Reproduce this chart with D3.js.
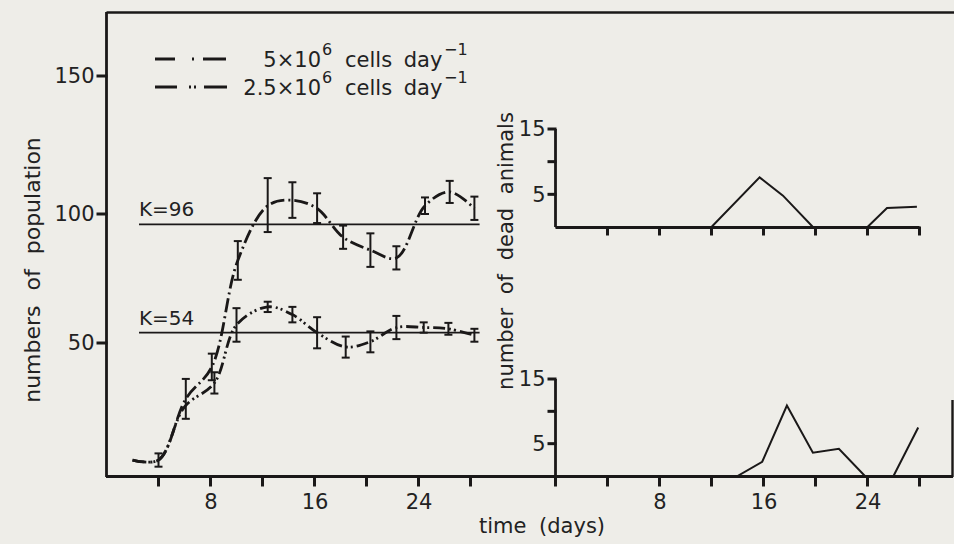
<!DOCTYPE html>
<html>
<head>
<meta charset="utf-8">
<script src="https://cdn.jsdelivr.net/npm/d3@7"></script>
<style>
  body { margin: 0; background: #eeede8; }
  svg { display: block; }
  text { font-family: "DejaVu Sans", sans-serif; fill: #222; }
  .axis text { font-size: 21px; fill: #222; font-family: "DejaVu Sans", sans-serif; }
</style>
</head>
<body>
<div id="chart"></div>
<script>
// population, 5x10^6 cells/day (dash-dot)
var daysHigh = [2, 4, 6.1, 8.1, 10.1, 12.4, 14.3, 16.2, 18.2, 20.3, 22.3, 24.5, 26.4, 28.3];
var meanHigh = [6, 6, 29, 41, 82, 103, 105, 102, 91, 86, 83, 103, 108, 102];
var errHigh  = [0, 2.5, 7.5, 5, 7.5, 10, 6.5, 5.5, 4.5, 6.5, 4.5, 3, 4, 4.3];

// population, 2.5x10^6 cells/day (dash-dot-dot)
var daysLow = [2, 4, 6, 8.3, 10, 12.4, 14.3, 16.2, 18.4, 20.3, 22.3, 24.4, 26.3, 28.3];
var meanLow = [6, 6, 26, 35, 57, 64, 61, 54, 48.5, 50.5, 56, 56, 55.5, 53];
var errLow  = [0, 0, 0, 4, 6.5, 2, 3, 6, 4, 4, 4.5, 2, 2.3, 2.5];

// carrying capacities
var kValues = [96, 54];
var kFrom = 2.5, kTo = 28.7;

// dead animals, upper and lower panels
var deadDaysTop = [0, 12, 15.7, 17.5, 19.8, 24, 25.5, 27.8];
var deadTop     = [0, 0, 7.6, 4.8, 0, 0, 2.9, 3.1];
var deadDaysBot = [0, 14, 15.9, 17.8, 19.8, 21.8, 23.8, 26, 27.9];
var deadBot     = [0, 0, 2.2, 10.9, 3.6, 4.2, 0, 0, 7.5];

var dayTicks = [4, 8, 12, 16, 20, 24, 28];
var popTicks = [50, 100, 150];
var deadTicks = [5, 10, 15];

var W = 954, H = 544;
var ink = "#1a1818";

var svg = d3.select("#chart").append("svg")
    .attr("width", W)
    .attr("height", H);

var xL = d3.scaleLinear().domain([0, 28]).range([106.5, 470.5]);
var xR = d3.scaleLinear().domain([0, 28]).range([555.5, 919.5]);
var yL = d3.scaleLinear().domain([0, 50, 100, 150]).range([476, 343, 214, 76]);
var yU = d3.scaleLinear().domain([0, 15]).range([227, 129]);
var yD = d3.scaleLinear().domain([0, 15]).range([476, 379]);

var labelEvery8 = d => d % 8 === 0 && d > 0 ? d : "";

function hLine(x1, x2, y, w) {
    svg.append("line").attr("x1", x1).attr("x2", x2).attr("y1", y).attr("y2", y)
        .attr("stroke", ink).attr("stroke-width", w);
}
function vLine(x, y1, y2, w) {
    svg.append("line").attr("x1", x).attr("x2", x).attr("y1", y1).attr("y2", y2)
        .attr("stroke", ink).attr("stroke-width", w);
}

// tick marks, drawn from the scales
function xTicks(scale, values, y, len) {
    svg.append("g").selectAll("line")
        .data(values)
        .enter().append("line")
        .attr("x1", d => scale(d)).attr("x2", d => scale(d))
        .attr("y1", y - 1).attr("y2", y + len)
        .attr("stroke", ink).attr("stroke-width", 3);
}
function yTicks(scale, values, x, len) {
    svg.append("g").selectAll("line")
        .data(values)
        .enter().append("line")
        .attr("x1", x - len).attr("x2", x + 1)
        .attr("y1", d => scale(d)).attr("y2", d => scale(d))
        .attr("stroke", ink).attr("stroke-width", 3);
}

// frame
hLine(106.5, W, 12.5, 2.6);
vLine(106.5, 12, 477, 2.8);
hLine(106, 953, 476.5, 2.8);
vLine(952.5, 400, 477, 2.4);

// left y axis (labels from the axis, ticks drawn separately)
var gyl = svg.append("g").attr("class", "axis")
    .attr("transform", "translate(106.5,0)")
    .call(d3.axisLeft(yL).tickValues(popTicks).tickSize(0).tickPadding(12).tickFormat(d3.format("d")));
gyl.select(".domain").remove();
yTicks(yL, popTicks, 106.5, 10);

// bottom axes
var gxl = svg.append("g").attr("class", "axis")
    .attr("transform", "translate(0,476.5)")
    .call(d3.axisBottom(xL).tickValues(dayTicks).tickSize(0).tickPadding(18).tickFormat(labelEvery8));
gxl.select(".domain").remove();
xTicks(xL, dayTicks, 476.5, 10);
var gxr = svg.append("g").attr("class", "axis")
    .attr("transform", "translate(0,476.5)")
    .call(d3.axisBottom(xR).tickValues(dayTicks).tickSize(0).tickPadding(18).tickFormat(labelEvery8));
gxr.select(".domain").remove();
xTicks(xR, [0].concat(dayTicks), 476.5, 10);

// right panels: y axes
[yU, yD].forEach(function(sc) {
    var g = svg.append("g").attr("class", "axis")
        .attr("transform", "translate(555.5,0)")
        .call(d3.axisLeft(sc).tickValues(deadTicks).tickSize(0).tickPadding(10)
            .tickFormat(d => d === 10 ? "" : d));
    g.select(".domain").remove();
    vLine(555.5, sc(15), sc(0), 2.8);
    yTicks(sc, deadTicks, 555.5, 8);
});

// upper right panel baseline + ticks
hLine(xR(0), xR(28), 227.5, 2.8);
xTicks(xR, dayTicks, 227.5, 8);

// K lines
kValues.forEach(function(k) {
    hLine(xL(kFrom), xL(kTo), yL(k), 1.8);
    svg.append("text")
        .attr("x", xL(kFrom))
        .attr("y", yL(k) - 8)
        .style("font-size", "20px")
        .text("K=" + k);
});

// population curves with error bars
var popLine = d3.line()
    .x(d => xL(d.day))
    .y(d => yL(d.mean))
    .curve(d3.curveCatmullRom.alpha(0.5));

function series(days, means, errs) {
    return days.map((d, i) => ({day: d, mean: means[i], err: errs[i]}));
}
var high = series(daysHigh, meanHigh, errHigh);
var low = series(daysLow, meanLow, errLow);

function drawSeries(data, dash) {
    svg.append("path")
        .datum(data)
        .attr("fill", "none")
        .attr("stroke", ink)
        .attr("stroke-width", 2.8)
        .attr("stroke-dasharray", dash)
        .attr("d", popLine);
    var bars = svg.append("g").selectAll("g")
        .data(data.filter(d => d.err > 0))
        .enter().append("g")
        .attr("stroke", ink)
        .attr("stroke-width", 2);
    bars.append("line")
        .attr("x1", d => xL(d.day)).attr("x2", d => xL(d.day))
        .attr("y1", d => yL(d.mean - d.err)).attr("y2", d => yL(d.mean + d.err));
    bars.append("line")
        .attr("x1", d => xL(d.day) - 4).attr("x2", d => xL(d.day) + 4)
        .attr("y1", d => yL(d.mean - d.err)).attr("y2", d => yL(d.mean - d.err));
    bars.append("line")
        .attr("x1", d => xL(d.day) - 4).attr("x2", d => xL(d.day) + 4)
        .attr("y1", d => yL(d.mean + d.err)).attr("y2", d => yL(d.mean + d.err));
}
drawSeries(high, "14,4,2,4");
drawSeries(low, "12,4,2,3,2,4");

// dead animals
var deadLineTop = d3.line().x((d, i) => xR(deadDaysTop[i])).y(d => yU(d));
var deadLineBot = d3.line().x((d, i) => xR(deadDaysBot[i])).y(d => yD(d));
svg.append("path").datum(deadTop)
    .attr("fill", "none").attr("stroke", ink).attr("stroke-width", 2)
    .attr("d", deadLineTop);
svg.append("path").datum(deadBot)
    .attr("fill", "none").attr("stroke", ink).attr("stroke-width", 2)
    .attr("d", deadLineBot);

// legend
var legendRows = [
    {y: 67, num: "5\u00d710", dash: "20,17,2,9,23"},
    {y: 95, num: "2.5\u00d710", dash: "22,12,2,3,2,8,23"}
];
legendRows.forEach(function(r) {
    svg.append("line")
        .attr("x1", 155).attr("x2", 228)
        .attr("y1", r.y - 8).attr("y2", r.y - 8)
        .attr("stroke", ink).attr("stroke-width", 2.8)
        .attr("stroke-dasharray", r.dash);
    svg.append("text").attr("x", 321).attr("y", r.y)
        .attr("text-anchor", "end").style("font-size", "21px").text(r.num);
    svg.append("text").attr("x", 322).attr("y", r.y - 12)
        .style("font-size", "16px").text("6");
    svg.append("text").attr("x", 345).attr("y", r.y)
        .style("font-size", "21px").style("word-spacing", "5px").text("cells day");
    svg.append("text").attr("x", 444).attr("y", r.y - 12)
        .style("font-size", "16px").text("\u22121");
});

// axis titles
svg.append("text")
    .attr("transform", "translate(40,270) rotate(-90)")
    .attr("text-anchor", "middle")
    .style("font-size", "22px")
    .style("word-spacing", "8px")
    .text("numbers of population");
svg.append("text")
    .attr("transform", "translate(513,251) rotate(-90)")
    .attr("text-anchor", "middle")
    .style("font-size", "21px")
    .style("word-spacing", "7px")
    .text("number of dead animals");
svg.append("text")
    .attr("x", 542)
    .attr("y", 533)
    .attr("text-anchor", "middle")
    .style("font-size", "21px")
    .style("word-spacing", "6px")
    .text("time (days)");
</script>
</body>
</html>
